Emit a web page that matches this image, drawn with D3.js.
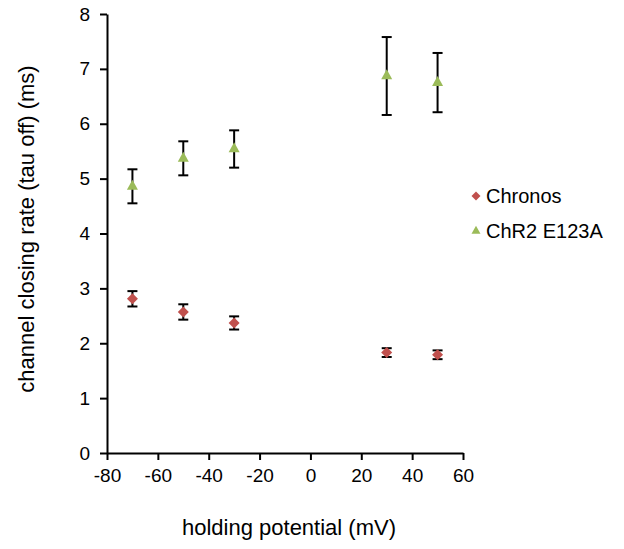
<!DOCTYPE html>
<html lang="en">
<head>
<meta charset="utf-8">
<title>tau off vs holding potential</title>
<script src="https://cdn.jsdelivr.net/npm/d3@7"></script>
<style>
  body { margin: 0; background: #fff; }
  text { font-family: "Liberation Sans", Arial, sans-serif; fill: #000; }
</style>
</head>
<body>
<script>
// values
var potentials = [-70, -50, -30, 30, 50];
var chronos    = [2.81, 2.57, 2.37, 1.83, 1.79];
var chronosErr = [0.14, 0.14, 0.12, 0.08, 0.08];
var chr2       = [4.86, 5.37, 5.54, 6.87, 6.75];
var chr2Err    = [0.31, 0.31, 0.34, 0.71, 0.54];
var xTicks = [-80, -60, -40, -20, 0, 20, 40, 60];
var yTicks = [0, 1, 2, 3, 4, 5, 6, 7, 8];
var seriesNames = ["Chronos", "ChR2 E123A"];

var W = 624, H = 549;
var svg = d3.select("body").append("svg").attr("width", W).attr("height", H);

var x = d3.scaleLinear().domain([-80, 60]).range([107, 463]);
var y = d3.scaleLinear().domain([0, 8]).range([453, 14]);

// axes (plain hyphen for negatives, like the original)
var gx = svg.append("g").attr("transform", "translate(0," + y(0) + ")")
  .call(d3.axisBottom(x).tickValues(xTicks).tickFormat(function(d) { return String(d); })
    .tickSize(7).tickSizeOuter(0).tickPadding(9));
var gy = svg.append("g").attr("transform", "translate(" + x(-80) + ",0)")
  .call(d3.axisLeft(y).tickValues(yTicks).tickFormat(function(d) { return String(d); })
    .tickSize(7).tickSizeOuter(0).tickPadding(10));
[gx, gy].forEach(function(g) {
  g.selectAll("path, line").attr("stroke", "#000").attr("stroke-width", 2);
  g.selectAll("text").style("font-size", "19px").attr("fill", "#000");
});

// titles
svg.append("text").attr("x", 289).attr("y", 535).attr("text-anchor", "middle")
  .style("font-size", "22px").attr("fill", "#1a1a1a").text("holding potential (mV)");
svg.append("text").attr("transform", "translate(34,229) rotate(-90)").attr("text-anchor", "middle")
  .style("font-size", "22px").attr("fill", "#1a1a1a").text("channel closing rate (tau off) (ms)");

function diamondPath(r) { return "M0," + (-r) + "L" + r + ",0L0," + r + "L" + (-r) + ",0Z"; }
function trianglePath(w, h) { return "M0," + (-h * 2 / 3) + "L" + (w / 2) + "," + (h / 3) + "L" + (-w / 2) + "," + (h / 3) + "Z"; }

function drawSeries(vals, errs, color, shape) {
  var g = svg.append("g");
  var pts = potentials.map(function(p, i) { return {x: p, v: vals[i], e: errs[i]}; });
  var eb = g.selectAll("g.eb").data(pts).enter().append("g").attr("stroke", "#000").attr("stroke-width", 2);
  eb.append("line")
    .attr("x1", function(d) { return x(d.x); }).attr("x2", function(d) { return x(d.x); })
    .attr("y1", function(d) { return y(d.v - d.e); }).attr("y2", function(d) { return y(d.v + d.e); });
  eb.append("line")
    .attr("x1", function(d) { return x(d.x) - 5; }).attr("x2", function(d) { return x(d.x) + 5; })
    .attr("y1", function(d) { return y(d.v + d.e); }).attr("y2", function(d) { return y(d.v + d.e); });
  eb.append("line")
    .attr("x1", function(d) { return x(d.x) - 5; }).attr("x2", function(d) { return x(d.x) + 5; })
    .attr("y1", function(d) { return y(d.v - d.e); }).attr("y2", function(d) { return y(d.v - d.e); });
  g.selectAll("path.m").data(pts).enter().append("path")
    .attr("d", shape)
    .attr("fill", color)
    .attr("transform", function(d) { return "translate(" + x(d.x) + "," + y(d.v) + ")"; });
}

drawSeries(chronos, chronosErr, "#C0504D", diamondPath(5.5));
drawSeries(chr2, chr2Err, "#9BBB59", trianglePath(11, 10));

// legend
var legend = svg.append("g");
var legY = [196, 231];
legend.append("path").attr("d", diamondPath(4.5)).attr("fill", "#C0504D")
  .attr("transform", "translate(476," + legY[0] + ")");
legend.append("path").attr("d", trianglePath(9, 8)).attr("fill", "#9BBB59")
  .attr("transform", "translate(476," + legY[1] + ")");
legend.selectAll("text").data(seriesNames).enter().append("text")
  .attr("x", 486).attr("y", function(d, i) { return legY[i]; }).attr("dy", "0.35em")
  .style("font-size", "20px").text(function(d) { return d; });
</script>
</body>
</html>
